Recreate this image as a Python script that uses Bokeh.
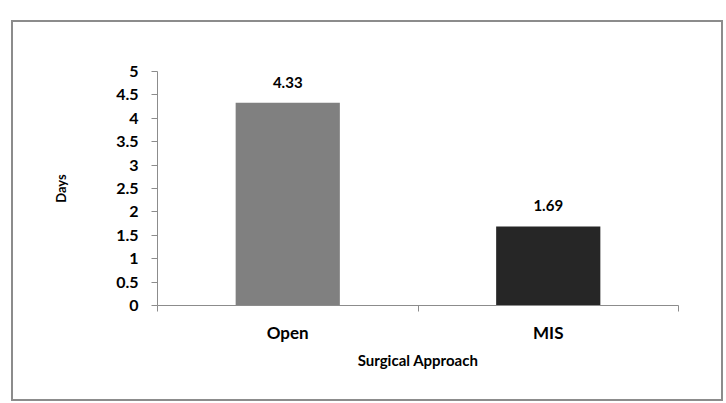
from bokeh.plotting import figure
from bokeh.models import ColumnDataSource, Range1d, LinearAxis, FixedTicker
from bokeh.embed import file_html
from bokeh.resources import INLINE
from bokeh.core.properties import value

categories = ["Open", "MIS"]
days = [4.33, 1.69]
bar_colors = ["#808080", "#262626"]
value_labels = ["4.33", "1.69"]
y_ticks = [0, 0.5, 1, 1.5, 2, 2.5, 3, 3.5, 4, 4.5, 5]

FONT = "Lato"
AXIS_COL = "#8c8c8c"

n = len(categories)
centers = [i + 0.5 for i in range(n)]
src = ColumnDataSource(dict(x=centers, days=days, color=bar_colors, lab=value_labels))

p = figure(x_range=Range1d(0, n), y_range=Range1d(0, 5),
           width=712, height=381, output_backend="svg", toolbar_location=None,
           min_border_left=144, min_border_right=47, min_border_top=49, min_border_bottom=98,
           margin=(20, 0, 0, 11), x_axis_location=None)
p.styles = {"border": "2px solid #8c8c8c"}
p.outline_line_color = None
p.xgrid.visible = False
p.ygrid.visible = False

p.vbar(x="x", top="days", width=0.4, color="color", line_color=None, source=src)
p.text(x="x", y="days", text="lab", source=src, text_align="center", text_baseline="bottom",
       y_offset=-15, text_font=value(FONT), text_font_style="bold", text_font_size="15px",
       text_color="#000000")

# Y axis
ya = p.yaxis[0]
ya.ticker = FixedTicker(ticks=y_ticks)
ya.minor_tick_line_color = None
ya.major_tick_in = 0
ya.major_tick_out = 6
ya.axis_line_color = AXIS_COL
ya.major_tick_line_color = AXIS_COL
ya.major_label_standoff = 13
ya.major_label_text_font = FONT
ya.major_label_text_font_style = "bold"
ya.major_label_text_font_size = "16px"
ya.major_label_text_color = "#000000"
ya.axis_label = "Days"
ya.axis_label_text_font = FONT
ya.axis_label_text_font_style = "bold"
ya.axis_label_text_font_size = "13px"
ya.axis_label_text_color = "#000000"
ya.axis_label_standoff = 44

# X axis: boundary ticks + category labels
edges = list(range(n + 1))
tick_axis = LinearAxis(ticker=FixedTicker(ticks=edges),
                       major_label_overrides={e: "" for e in edges},
                       major_label_text_font_size="1px", major_label_standoff=0,
                       minor_tick_line_color=None, major_tick_in=0, major_tick_out=6,
                       axis_line_color=AXIS_COL, major_tick_line_color=AXIS_COL)
cat_axis = LinearAxis(ticker=FixedTicker(ticks=centers),
                      major_label_overrides=dict(zip(centers, categories)),
                      axis_line_color=None, major_tick_line_color=None,
                      minor_tick_line_color=None, major_label_standoff=4,
                      major_label_text_font=FONT, major_label_text_font_style="bold",
                      major_label_text_font_size="17px", major_label_text_color="#000000",
                      axis_label="Surgical Approach", axis_label_text_font=FONT,
                      axis_label_text_font_style="bold", axis_label_text_font_size="15px",
                      axis_label_text_color="#000000", axis_label_standoff=5)
p.below = [tick_axis, cat_axis]

open("out.html", "w").write(file_html(p, INLINE))
